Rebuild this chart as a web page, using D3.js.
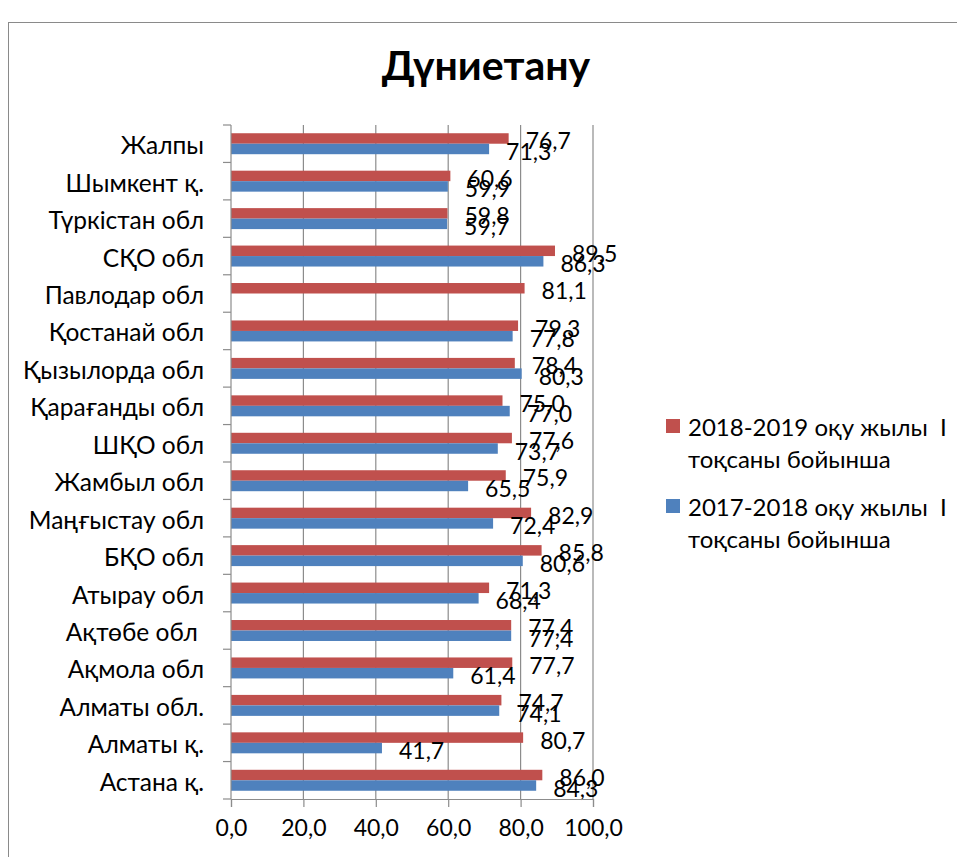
<!DOCTYPE html>
<html>
<head>
<meta charset="utf-8">
<script src="https://cdn.jsdelivr.net/npm/d3@7"></script>
<style>
  html, body { margin:0; padding:0; background:#fff; }
  svg text { font-family: Lato, "Open Sans", sans-serif; fill:#000; white-space:pre; }
</style>
</head>
<body>
<div id="chart"></div>
<script>
/*********************************************************
 * DATA
 *********************************************************/
const categories = [
  "Жалпы", "Шымкент қ.", "Түркістан обл", "СҚО обл", "Павлодар обл",
  "Қостанай обл", "Қызылорда обл", "Қарағанды обл", "ШҚО обл", "Жамбыл обл",
  "Маңғыстау обл", "БҚО обл", "Атырау обл", "Ақтөбе обл ", "Ақмола обл",
  "Алматы обл.", "Алматы қ.", "Астана қ."
];
const values1819 = [76.7, 60.6, 59.8, 89.5, 81.1, 79.3, 78.4, 75.0, 77.6, 75.9,
                    82.9, 85.8, 71.3, 77.4, 77.7, 74.7, 80.7, 86.0];
const values1718 = [71.3, 59.9, 59.7, 86.3, null, 77.8, 80.3, 77.0, 73.7, 65.5,
                    72.4, 80.6, 68.4, 77.4, 61.4, 74.1, 41.7, 84.3];
const xTicks = [0, 20, 40, 60, 80, 100];
const seriesNames = ["2018-2019 оқу жылы  І", "2017-2018 оқу жылы  І"];
const seriesSub = "тоқсаны бойынша";
const colors = ["#C0504D", "#4F81BD"];

/*********************************************************
 * CHART
 *********************************************************/
const W = 957, H = 857;
const m = {top:125, left:231, right:W-593, bottom:H-799};
const fmt = v => d3.format(".1f")(v).replace(".", ",");

const svg = d3.select("#chart").append("svg")
    .attr("width", W).attr("height", H);

// outer chart frame (runs off the picture on right / bottom)
svg.append("rect").attr("x", 8.5).attr("y", 22.5)
   .attr("width", 1000).attr("height", 1000)
   .attr("fill", "none").attr("stroke", "#8a8a8a").attr("stroke-width", 1);

svg.append("text").attr("x", 486).attr("y", 80)
   .attr("text-anchor", "middle").attr("font-size", 41).attr("font-weight", 700)
   .text("Дүниетану");

const x = d3.scaleLinear().domain([0, 100]).range([m.left, W - m.right]);
const y = d3.scaleBand().domain(categories).range([m.top, H - m.bottom]);
const grpH = y.bandwidth() * 0.56;
const sub = d3.scaleBand().domain([0, 1]).range([0, grpH]);

// gridlines
svg.append("g").selectAll("line").data(xTicks.slice(1)).enter().append("line")
   .attr("x1", d => x(d)).attr("x2", d => x(d))
   .attr("y1", m.top).attr("y2", H - m.bottom)
   .attr("stroke", "#8c8c8c").attr("stroke-width", 1.2);

// bars + value labels
const rows = categories.map((c, i) => ({c, v:[values1819[i], values1718[i]]}));
const g = svg.append("g");
rows.forEach(r => {
  r.v.forEach((v, s) => {
    if (v == null) return;
    const y0 = y(r.c) + (y.bandwidth() - grpH) / 2 + sub(s);
    g.append("rect")
     .attr("x", x(0)).attr("y", y0)
     .attr("width", x(v) - x(0)).attr("height", sub.bandwidth())
     .attr("fill", colors[s]);
    g.append("text")
     .attr("x", x(v) + 17).attr("y", y0 + sub.bandwidth() / 2 + 2)
     .attr("dominant-baseline", "central")
     .attr("font-size", 23)
     .text(fmt(v));
  });
});

// axes
const xAxis = svg.append("g").attr("transform", `translate(0,${H - m.bottom})`)
   .call(d3.axisBottom(x).tickValues(xTicks).tickSize(8).tickPadding(13).tickFormat(fmt));
xAxis.select(".domain").attr("stroke", "#8c8c8c").attr("stroke-width", 1.2);
xAxis.selectAll(".tick line").attr("stroke", "#8c8c8c").attr("stroke-width", 1.2);
xAxis.selectAll("text").attr("font-size", 23).attr("font-family", null);

const bounds = y.domain().map(d => y(d)).concat([H - m.bottom]);
svg.append("line").attr("x1", x(0)).attr("x2", x(0))
   .attr("y1", m.top).attr("y2", H - m.bottom)
   .attr("stroke", "#8c8c8c").attr("stroke-width", 1.2);
svg.append("g").selectAll("line").data(bounds).enter().append("line")
   .attr("x1", x(0) - 8).attr("x2", x(0)).attr("y1", d => d).attr("y2", d => d)
   .attr("stroke", "#8c8c8c").attr("stroke-width", 1.2);
svg.append("g").selectAll("text").data(categories).enter().append("text")
   .attr("x", 204).attr("y", d => y(d) + y.bandwidth() / 2 + 1)
   .attr("text-anchor", "end").attr("dominant-baseline", "central")
   .attr("font-size", 24.5)
   .text(d => d);

// legend
const leg = svg.append("g");
seriesNames.forEach((name, i) => {
  const ly = 426 + i * 80;
  leg.append("rect").attr("x", 666).attr("y", ly - 7)
     .attr("width", 14).attr("height", 14).attr("fill", colors[i]);
  const t = leg.append("text").attr("x", 688).attr("y", ly)
     .attr("dominant-baseline", "central").attr("font-size", 24);
  t.append("tspan").attr("x", 688).text(name);
  t.append("tspan").attr("x", 688).attr("dy", 32).text(seriesSub);
});
</script>
</body>
</html>
